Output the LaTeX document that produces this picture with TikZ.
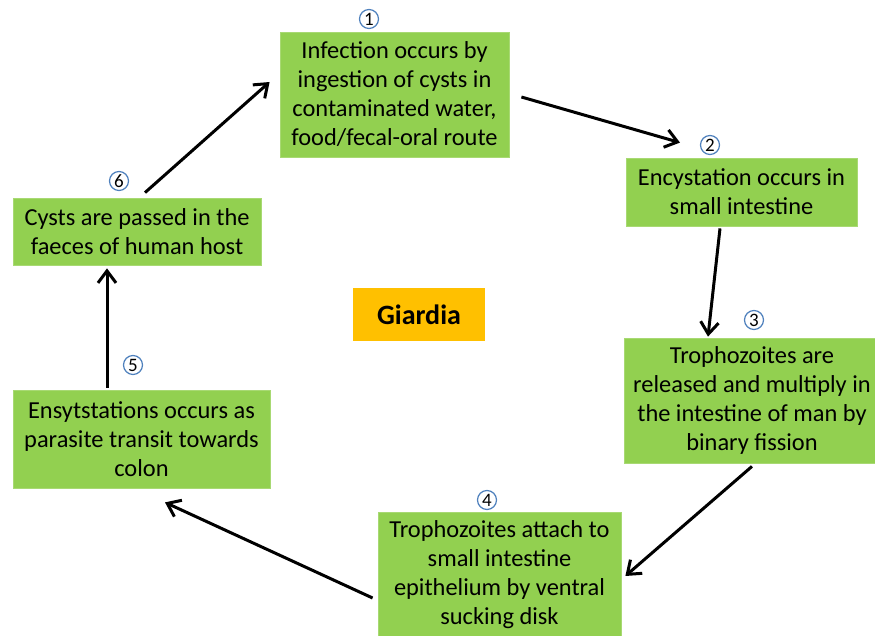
\documentclass[tikz,border=0pt]{standalone}
\usepackage{fontspec}
\setmainfont{Carlito}
\usetikzlibrary{
  arrows.meta,
  calc,
  positioning,
}
\definecolor{leafgreen}{RGB}{146, 208, 80}
\definecolor{ambertag}{RGB}{255, 192, 0}
\definecolor{ringblue}{RGB}{79, 129, 189}
\tikzstyle{stage} = [
  rectangle,
  fill=leafgreen,
  draw=leafgreen!80!white,
  line width=0.4pt,
  align=center,
  inner sep=2pt,
  font=\fontsize{12.2}{14.5}\selectfont,
]
\tikzstyle{num} = [
  circle,
  draw=ringblue,
  line width=0.6pt,
  fill=white,
  inner sep=0pt,
  minimum size=9.5pt,
  font=\fontsize{9.5}{10}\selectfont,
]
\tikzstyle{arrow} = [
  -{Straight Barb[length=6pt,width=9pt]},
  line width=1.5pt,
  black,
]

\begin{document}
\begin{tikzpicture}[x=0.5pt,y=0.5pt]

  \clip (0,0) rectangle (875,-636);
  \fill[white] (0,0) rectangle (875,-636);

  \node[stage,minimum width=114.5pt,minimum height=62.5pt] (infect) at (394.5,-94.5)
    {Infection occurs by\\ingestion of cysts in\\contaminated water,\\food/fecal-oral route};
  \node[stage,minimum width=115.5pt,minimum height=34pt] (encyst) at (741.5,-192)
    {Encystation occurs in\\small intestine};
  \node[stage,minimum width=128pt,minimum height=62.5pt] (tropho) at (752,-400.5)
    {Trophozoites are\\released and multiply in\\the intestine of man by\\binary fission};
  \node[stage,minimum width=121.5pt,minimum height=63pt] (attach) at (499.5,-575)
    {Trophozoites attach to\\small intestine\\epithelium by ventral\\sucking disk};
  \node[stage,minimum width=128.5pt,minimum height=49pt] (ensyst) at (141.5,-439)
    {Ensytstations occurs as\\parasite transit towards\\colon};
  \node[stage,minimum width=124pt,minimum height=33.5pt] (cysts) at (137,-231.5)
    {Cysts are passed in the\\faeces of human host};
  \node[rectangle,fill=ambertag,minimum width=66pt,minimum height=26.5pt,
        font=\fontsize{14}{16}\selectfont\bfseries] (giardia) at (419,-314.5) {Giardia};

  % step numbers
  \node[num] (n1) at (369,-19) {1};
  \node[num] (n2) at (710,-145) {2};
  \node[num] (n3) at (754,-320) {3};
  \node[num] (n4) at (487,-500) {4};
  \node[num] (n5) at (133,-365) {5};
  \node[num] (n6) at (119,-181) {6};

  \draw[arrow] ($(infect.east)+(12,-2.5)$) -- ($(encyst.north)+(-61.5,15)$);
  \draw[arrow] ($(encyst.south)+(-21.5,-2)$) -- ($(tropho.north)+(-44,1)$);
  \draw[arrow] ($(tropho.south)+(0,-3)$) -- ($(attach.east)+(4,-1)$);
  \draw[arrow] ($(attach.west)+(-5,-23)$) -- ($(ensyst.south)+(23.5,-14)$);
  \draw[arrow] ($(ensyst.north)+(-34.5,2)$) -- ($(cysts.south)+(-30,-3)$);
  \draw[arrow] ($(cysts.north)+(8,5)$) -- ($(infect.west)+(-10,12.5)$);

\end{tikzpicture}
\end{document}
